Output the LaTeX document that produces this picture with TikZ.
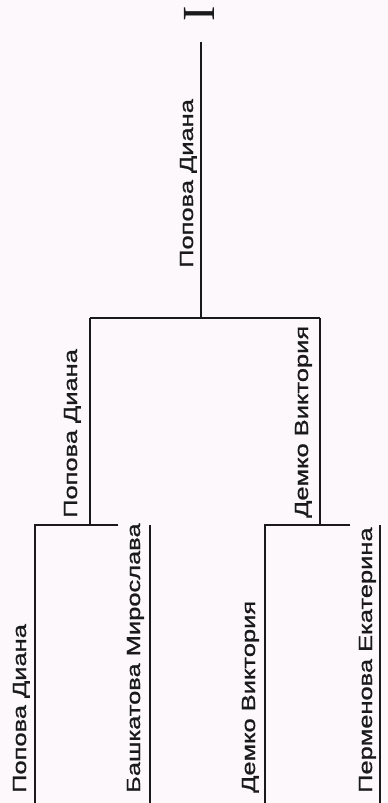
\documentclass[tikz,border=0pt]{standalone}
\usepackage{fontspec}
\setmainfont{Liberation Sans}
\newfontfamily\serifI{Liberation Serif}
\font\nmfont="Liberation Sans:embolden=0.9" at 19pt
\usepackage{graphicx}
\definecolor{bg}{HTML}{FCF8FC}
\definecolor{ink}{HTML}{1A1A1A}
\newcommand\stretchnm[1]{\scalebox{1.34}[1]{#1}}
\tikzset{
  player/.style={rotate=90, anchor=base west, inner sep=0pt, text=ink,
    font=\nmfont},
  bracket/.style={draw=ink, line width=2pt}
}
\begin{document}
\begin{tikzpicture}[x=1pt,y=-1pt]
\fill[bg] (0,0) rectangle (388,803);
\useasboundingbox (0,0) rectangle (388,803);
% coordinates
\coordinate (top) at (201,42);
\coordinate (f) at (201,318);
\coordinate (fl) at (90,318);
\coordinate (fr) at (320,318);
\coordinate (sl) at (90,525);
\coordinate (sr) at (320,525);
\coordinate (a1) at (35,525);
\coordinate (a1b) at (35,803);
\coordinate (a2e) at (118,525);
\coordinate (a2) at (150,525);
\coordinate (a2b) at (150,803);
\coordinate (b1) at (265,525);
\coordinate (b1b) at (265,803);
\coordinate (b2e) at (350,525);
\coordinate (b2) at (380,525);
\coordinate (b2b) at (380,803);
% bracket lines
\draw[bracket] (top) -- (f);
\draw[bracket] (fl) -- (fr);
\draw[bracket] (fl) -- (sl);
\draw[bracket] (fr) -- (sr);
\draw[bracket] (a2e) -- (a1) -- (a1b);
\draw[bracket] (a2) -- (a2b);
\draw[bracket] (b2e) -- (b1) -- (b1b);
\draw[bracket] (b2) -- (b2b);
% names
\node[player] (w) at (193,268) {\stretchnm{Попова Диана}};
\node[player] (s1) at (77,518) {\stretchnm{Попова Диана}};
\node[player] (s2) at (308,518) {\stretchnm{Демко Виктория}};
\node[player] (p1) at (26,793) {\stretchnm{Попова Диана}};
\node[player] (p2) at (140,793) {\stretchnm{Башкатова Мирослава}};
\node[player] (p3) at (255,793) {\stretchnm{Демко Виктория}};
\node[player] (p4) at (372,793) {\stretchnm{Перменова Екатерина}};
\node[rotate=90, inner sep=0pt, text=ink, font=\serifI\fontsize{46}{46}\selectfont] (place) at (199,14) {I};
\end{tikzpicture}
\end{document}
